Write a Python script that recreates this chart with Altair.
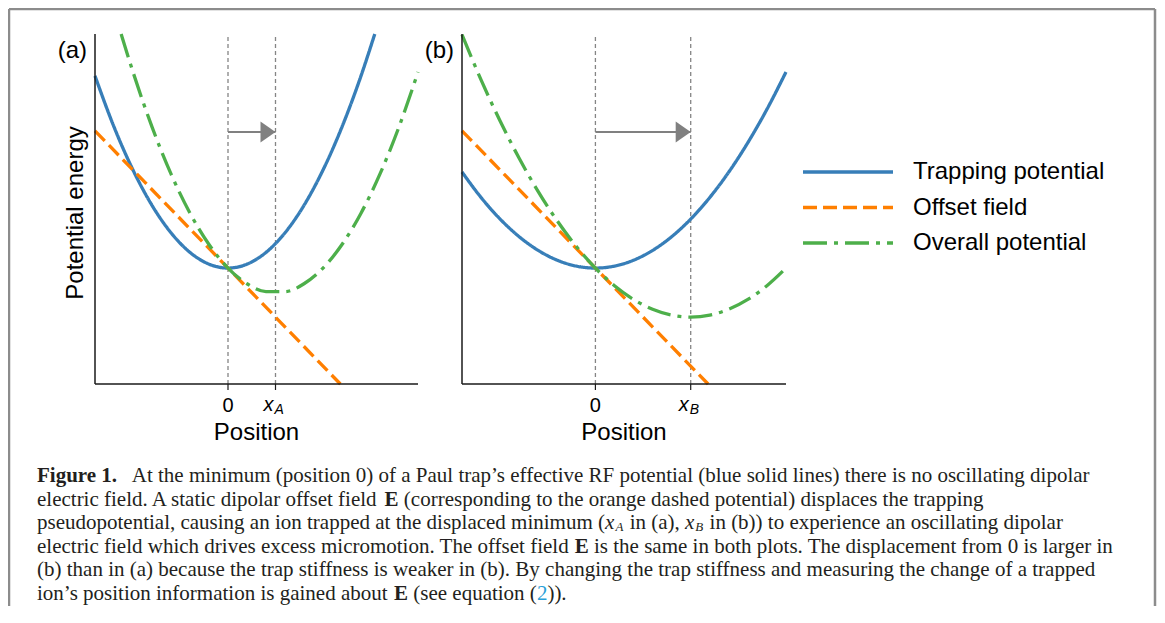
import altair as alt
import pandas as pd

# ------------------------------------------------------------------ data
SERIES = ["Trapping potential", "Offset field", "Overall potential"]
COLORS = ["#377eb8", "#ff7f00", "#4daf4a"]

X_DOMAIN = [-2.8, 4.0]
Y_DOMAIN = [-4.73, 9.55]

# panel (a): stiff trap
trap_a_x = [-2.8, -2.4, -2.0, -1.6, -1.2, -0.8, -0.4, 0.0, 0.4, 0.8, 1.2, 1.6, 2.0, 2.4, 2.8, 3.09]
trap_a_y = [7.84, 5.76, 4.0, 2.56, 1.44, 0.64, 0.16, 0.0, 0.16, 0.64, 1.44, 2.56, 4.0, 5.76, 7.84, 9.55]
overall_a_x = [-2.25, -2.0, -1.6, -1.2, -0.8, -0.4, 0.0, 0.4, 0.8, 1.2, 1.6, 2.0, 2.4, 2.8, 3.2, 3.6, 4.0]
overall_a_y = [9.55, 8.0, 5.76, 3.84, 2.24, 0.96, 0.0, -0.64, -0.96, -0.96, -0.64, 0.0, 0.96, 2.24, 3.84, 5.76, 8.0]

# panel (b): weak trap
trap_b_x = [-2.8, -2.4, -2.0, -1.6, -1.2, -0.8, -0.4, 0.0, 0.4, 0.8, 1.2, 1.6, 2.0, 2.4, 2.8, 3.2, 3.6, 4.0]
trap_b_y = [3.92, 2.88, 2.0, 1.28, 0.72, 0.32, 0.08, 0.0, 0.08, 0.32, 0.72, 1.28, 2.0, 2.88, 3.92, 5.12, 6.48, 8.0]
overall_b_x = [-2.8, -2.4, -2.0, -1.6, -1.2, -0.8, -0.4, 0.0, 0.4, 0.8, 1.2, 1.6, 2.0, 2.4, 2.8, 3.2, 3.6, 4.0]
overall_b_y = [9.52, 7.68, 6.0, 4.48, 3.12, 1.92, 0.88, 0.0, -0.72, -1.28, -1.68, -1.92, -2.0, -1.92, -1.68, -1.28, -0.72, 0.0]

# offset field (same in both panels)
offset_x = [-2.8, 2.365]
offset_y = [5.6, -4.73]

# displaced minima and arrow height
disp_a = 1.0
disp_b = 2.0
arrow_y = 5.55

tick_zero = "0"
sub_a = "A"
sub_b = "B"
x_title = "Position"
y_title = "Potential energy"

caption_lines = [
    [("Figure 1.", "b"), (" At the minimum (position 0) of a Paul trap\u2019s effective RF potential (blue solid lines) there is no oscillating dipolar", "r")],
    [("electric field. A static dipolar offset field ", "r"), ("E", "b"), (" (corresponding to the orange dashed potential) displaces the trapping", "r")],
    [("pseudopotential, causing an ion trapped at the displaced minimum (", "r"), ("x", "i"), ("A", "sub"),
     (" in (a), ", "r"), ("x", "i"), ("B", "sub"), (" in (b)) to experience an oscillating dipolar", "r")],
    [("electric field which drives excess micromotion. The offset field ", "r"), ("E", "b"), (" is the same in both plots. The displacement from 0 is larger in", "r")],
    [("(b) than in (a) because the trap stiffness is weaker in (b). By changing the trap stiffness and measuring the change of a trapped", "r")],
    [("ion\u2019s position information is gained about ", "r"), ("E", "b"), (" (see equation (", "r"), ("2", "link"), ("))." , "r")],
]

# ------------------------------------------------------------------ layout
W, H = 1149, 598
SANS = "Liberation Sans"
SERIF = "Liberation Serif"
Y_RANGE = [376, 26]
XA_RANGE = [87, 410]
XB_RANGE = [454, 778]
AXIS_COLOR = "#1a1a1a"

color_scale = alt.Scale(domain=SERIES, range=COLORS)
dash_scale = alt.Scale(domain=SERIES, range=[[1, 0], [14, 6], [24, 7, 4, 7]])


def make_panel(label, x_range, tx, ty, ox, oy, disp, sub, ytitle):
    xs = alt.Scale(domain=X_DOMAIN, range=x_range, nice=False, zero=False)
    ys = alt.Scale(domain=Y_DOMAIN, range=Y_RANGE, nice=False, zero=False)

    def X(f):
        return alt.X(f, scale=xs, axis=None)

    def Y(f):
        return alt.Y(f, scale=ys, axis=None)

    curves = pd.DataFrame({
        "x": list(tx) + list(offset_x) + list(ox),
        "y": list(ty) + list(offset_y) + list(oy),
        "series": [SERIES[0]] * len(tx) + [SERIES[1]] * len(offset_x) + [SERIES[2]] * len(ox),
    })
    lines = alt.Chart(curves).mark_line(strokeWidth=3.3, interpolate="monotone").encode(
        x=X("x:Q"), y=Y("y:Q"),
        color=alt.Color("series:N", scale=color_scale, legend=None),
        strokeDash=alt.StrokeDash("series:N", scale=dash_scale, legend=None),
    )
    # axes (spines + ticks)
    box = pd.DataFrame({"x0": [X_DOMAIN[0]], "x1": [X_DOMAIN[1]], "y0": [Y_DOMAIN[0]], "y1": [Y_DOMAIN[1]],
                        "xm": [(X_DOMAIN[0] + X_DOMAIN[1]) / 2], "ym": [(Y_DOMAIN[0] + Y_DOMAIN[1]) / 2]})
    spine_b = alt.Chart(box).mark_rule(color=AXIS_COLOR, strokeWidth=1.5).encode(
        x=X("x0:Q"), x2="x1:Q", y=Y("y0:Q"))
    spine_l = alt.Chart(box).mark_rule(color=AXIS_COLOR, strokeWidth=1.5).encode(
        x=X("x0:Q"), y=Y("y0:Q"), y2="y1:Q")
    tk = pd.DataFrame({"x": [0.0, disp], "lo": [Y_DOMAIN[0]] * 2, "hi": [Y_DOMAIN[1]] * 2})
    ticks = alt.Chart(tk).mark_rule(color=AXIS_COLOR, strokeWidth=1.2, y2Offset=6).encode(
        x=X("x:Q"), y=Y("lo:Q"), y2="lo:Q")
    xt = alt.Chart(box.assign(t=[x_title])).mark_text(
        align="center", baseline="alphabetic", dy=56, font=SANS, fontSize=24, color="black").encode(
        x=X("xm:Q"), y=Y("y0:Q"), text="t:N")
    layers = []
    if ytitle:
        yt = alt.Chart(box.assign(t=[ytitle])).mark_text(
            align="center", baseline="alphabetic", angle=270, dy=-12, dx=-4,
            font=SANS, fontSize=24, color="black").encode(
            x=X("x0:Q"), y=Y("ym:Q"), text="t:N")
        layers.append(yt)

    vlines = alt.Chart(tk).mark_rule(color="#858585", strokeWidth=1.3, strokeDash=[4, 3]).encode(
        x=X("x:Q"), y=Y("lo:Q"), y2="hi:Q")
    ar = pd.DataFrame({"x0": [0.0], "x1": [disp], "y": [arrow_y]})
    shaft = alt.Chart(ar).mark_rule(color="#808080", strokeWidth=2).encode(
        x=X("x0:Q"), x2="x1:Q", y=Y("y:Q"))
    head = alt.Chart(ar).mark_point(shape="M-2,-1.4L0,0L-2,1.4Z", filled=True, size=225,
                                    color="#808080", opacity=1).encode(
        x=X("x1:Q"), y=Y("y:Q"))
    lab = pd.DataFrame({"x": [X_DOMAIN[0]], "y": [Y_DOMAIN[1]], "t": [label]})
    panel_label = alt.Chart(lab).mark_text(align="right", baseline="alphabetic", dx=-8, dy=24,
                                           font=SANS, fontSize=24, color="black").encode(
        x=X("x:Q"), y=Y("y:Q"), text="t:N")
    t0 = pd.DataFrame({"x": [0.0], "y": [Y_DOMAIN[0]], "t": [tick_zero]})
    tick0 = alt.Chart(t0).mark_text(align="center", baseline="alphabetic", dy=28,
                                    font=SANS, fontSize=20, color="black").encode(
        x=X("x:Q"), y=Y("y:Q"), text="t:N")
    tx_ = pd.DataFrame({"x": [disp], "y": [Y_DOMAIN[0]], "t": ["x"], "s": [sub]})
    xsym = alt.Chart(tx_).mark_text(align="center", baseline="alphabetic", dx=-7, dy=27,
                                    font=SANS, fontSize=20, fontStyle="italic", color="black").encode(
        x=X("x:Q"), y=Y("y:Q"), text="t:N")
    xsub = alt.Chart(tx_).mark_text(align="left", baseline="alphabetic", dx=-1, dy=30,
                                    font=SANS, fontSize=14, fontStyle="italic", color="black").encode(
        x=X("x:Q"), y=Y("y:Q"), text="s:N")
    return alt.layer(vlines, shaft, head, lines, spine_b, spine_l, ticks, xt, *layers,
                     panel_label, tick0, xsym, xsub)


panel_a = make_panel("(a)", XA_RANGE, trap_a_x, trap_a_y, overall_a_x, overall_a_y, disp_a, sub_a, y_title)
panel_b = make_panel("(b)", XB_RANGE, trap_b_x, trap_b_y, overall_b_x, overall_b_y, disp_b, sub_b, None)

# ------------------------------------------------------------------ legend
leg = pd.DataFrame([{"series": s, "row": i, "pos": p} for i, s in enumerate(SERIES) for p in (0.0, 1.0)])
lx = alt.Scale(domain=[0, 1], range=[795, 885], nice=False, zero=False)
ly = alt.Scale(domain=[0, 2], range=[164, 235], nice=False, zero=False)
legend_lines = alt.Chart(leg).mark_line(strokeWidth=3.3).encode(
    x=alt.X("pos:Q", scale=lx, axis=None),
    y=alt.Y("row:Q", scale=ly, axis=None),
    color=alt.Color("series:N", scale=color_scale, legend=None),
    strokeDash=alt.StrokeDash("series:N", scale=dash_scale, legend=None),
)
legend_text = alt.Chart(leg[leg["pos"] == 1.0]).mark_text(
    align="left", baseline="middle", dx=20, font=SANS, fontSize=24, color="black").encode(
    x=alt.X("pos:Q", scale=lx, axis=None),
    y=alt.Y("row:Q", scale=ly, axis=None),
    text="series:N",
)
legend = alt.layer(legend_lines, legend_text)

# ------------------------------------------------------------------ caption (Times metrics)
TR = {' ': 250, '(': 333, ')': 333, '.': 250, ',': 250, '\u2019': 333, '0': 500, '1': 500, '2': 500,
      'a': 444, 'b': 500, 'c': 444, 'd': 500, 'e': 444, 'f': 333, 'g': 500, 'h': 500, 'i': 278,
      'j': 278, 'k': 500, 'l': 278, 'm': 778, 'n': 500, 'o': 500, 'p': 500, 'q': 500, 'r': 333,
      's': 389, 't': 278, 'u': 500, 'v': 500, 'w': 722, 'x': 500, 'y': 500, 'z': 444,
      'A': 722, 'B': 667, 'E': 611, 'F': 556, 'P': 556, 'R': 667, 'T': 611}
TB = {' ': 250, 'F': 611, 'i': 278, 'g': 500, 'u': 556, 'r': 444, 'e': 444, '1': 500, '.': 250, 'E': 667}
TI = {'x': 444, 'A': 611, 'B': 611}
CAP_FS = 21
SUB_FS = 13
SUB_SHIFT = 1.5
CAP_X0 = 29
CAP_Y0 = 474
CAP_DY = 23.6
FIG_GAP = 9      # extra gap after the bold "Figure 1."
SUB_GAP = 1      # breathing room around subscripts


def width(s, style):
    table = TB if style == "b" else TI if style in ("i", "sub") else TR
    fs = SUB_FS if style == "sub" else CAP_FS
    return sum(table.get(c, 500) for c in s) * fs / 1000.0


cap_rows = []
for li, segs in enumerate(caption_lines):
    cx = CAP_X0
    base = CAP_Y0 + li * CAP_DY
    for si, (text, style) in enumerate(segs):
        lead = len(text) - len(text.lstrip(" "))
        trail = len(text) - len(text.rstrip(" "))
        core = text.strip(" ")
        cx += width(" " * lead, "r")
        if li == 0 and si == 1:
            cx += FIG_GAP
        if style == "sub":
            cx += SUB_GAP
        cap_rows.append({"t": core, "x": cx, "y": base + (SUB_SHIFT if style == "sub" else 0), "style": style})
        cx += width(core, style) + width(" " * trail, "r")
        if style == "sub":
            cx += SUB_GAP
cap = pd.DataFrame(cap_rows)


def cap_layer(style, **kw):
    return alt.Chart(cap[cap["style"] == style]).mark_text(
        align="left", baseline="alphabetic", font=SERIF, **kw).encode(
        x=alt.X("x:Q", scale=None, axis=None),
        y=alt.Y("y:Q", scale=None, axis=None),
        text="t:N",
    )


caption = [
    cap_layer("r", fontSize=CAP_FS, color="#231f20"),
    cap_layer("b", fontSize=CAP_FS, fontWeight="bold", color="#231f20"),
    cap_layer("i", fontSize=CAP_FS, fontStyle="italic", color="#231f20"),
    cap_layer("sub", fontSize=SUB_FS, fontStyle="italic", color="#231f20"),
    cap_layer("link", fontSize=CAP_FS, color="#2a9fd8"),
]

# ------------------------------------------------------------------ frame
one = pd.DataFrame({"k": [0]})
frame_top = alt.Chart(one).mark_rule(color="#8c8c8c", strokeWidth=2.5).encode(
    x=alt.value(1), x2=alt.value(W - 2), y=alt.value(1))
frame_left = alt.Chart(one).mark_rule(color="#8c8c8c", strokeWidth=2.5).encode(
    x=alt.value(1), y=alt.value(1), y2=alt.value(H))
frame_right = alt.Chart(one).mark_rule(color="#8c8c8c", strokeWidth=2.5).encode(
    x=alt.value(W - 2), y=alt.value(1), y2=alt.value(H))

chart = alt.layer(
    frame_top, frame_left, frame_right, panel_a, panel_b, legend, *caption
).resolve_scale(
    x="independent", y="independent"
).properties(
    width=W, height=H, padding=0, autosize=alt.AutoSizeParams(type="none"), background="white"
).configure_view(stroke=None)

chart.save("out.html", embed_options={"renderer": "svg", "actions": False})
